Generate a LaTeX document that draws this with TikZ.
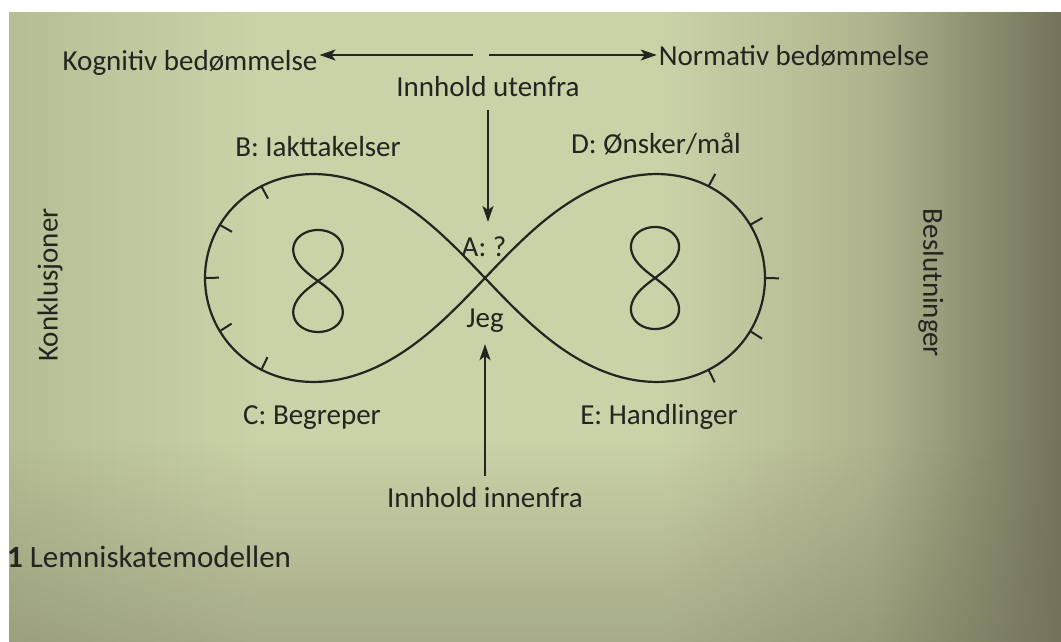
\documentclass[tikz,border=0pt]{standalone}
\usepackage{fontspec}
\setmainfont{Carlito}
\usetikzlibrary{shapes}
\usetikzlibrary{arrows.meta}
\usetikzlibrary{calc}
\usetikzlibrary{fadings}

\definecolor{pageleft}{RGB}{182,190,149}
\definecolor{pagelight}{RGB}{202,210,168}
\definecolor{pagemid}{RGB}{176,180,142}
\definecolor{pagedark}{RGB}{116,114,90}
\definecolor{ink}{RGB}{36,36,32}

\pgfdeclarehorizontalshading{pageshade}{100bp}{color(0bp)=(pageleft); color(25bp)=(pageleft); color(37bp)=(pagelight); color(56bp)=(pagelight); color(66bp)=(pagemid); color(75bp)=(pagedark); color(100bp)=(pagedark)}

\newcommand{\lemx}[1]{485+280*cos(#1)/(1+sin(#1)*sin(#1))}
\newcommand{\lemy}[1]{278+294*sin(#1)*cos(#1)/(1+sin(#1)*sin(#1))}

\begin{document}
\begin{tikzpicture}[x=1pt,y=-1pt]
	\tikzstyle{every node}=[text=ink,font=\fontsize{29}{34}\selectfont,inner sep=2pt]
	\tikzstyle{arr}=[draw=ink,line width=2pt,-{Stealth[length=16pt,width=11pt,inset=4pt]}]
	\tikzstyle{curve}=[draw=ink,line width=2.2pt]
	\tikzstyle{tickmark}=[draw=ink,line width=2pt]
	\useasboundingbox (0,0) rectangle (1061,642);
	\fill[white] (0,0) rectangle (1061,642);
	\shade[shading=pageshade] (9,13) rectangle (1061,642);
	\fill[pagedark,path fading=north,fill opacity=0.4] (9,440) rectangle (1061,642);

	\node[anchor=base] (kog) at (190,71) {Kognitiv bedømmelse};
	\node[anchor=base] (norm) at (794,66) {Normativ bedømmelse};
	\node[anchor=base] (ute) at (488,96) {Innhold utenfra};
	\node[anchor=base] (iakt) at (318,157) {B: Iakttakelser};
	\node[anchor=base] (onsk) at (656,153) {D: Ønsker/mål};
	\node[anchor=base] (a) at (484,256) {A: ?};
	\node[anchor=base] (jeg) at (485,327) {Jeg};
	\node[anchor=base] (begr) at (312,424) {C: Begreper};
	\node[anchor=base] (handl) at (659,424) {E: Handlinger};
	\node[anchor=base] (inn) at (485,507) {Innhold innenfra};
	\node[rotate=90] (konk) at (50,285) {Konklusjoner};
	\node[rotate=-90] (besl) at (931,283) {Beslutninger};
	\node[anchor=base west,font=\fontsize{31}{36}\selectfont] (cap) at (5,567) {\textbf{1} Lemniskatemodellen};

	\coordinate (midL) at (473,55);
	\coordinate (midR) at (489,55);
	\draw[arr] (midL) -- (midL -| kog.east);
	\draw[arr] (midR) -- (midR -| norm.west);
	\draw[arr,shorten <=12pt,shorten >=12pt] (ute.south) -- (ute.south |- a.north);
	\draw[arr,shorten <=9pt,shorten >=10pt] (inn.north) -- (inn.north |- jeg.south);

	\draw[curve] plot[domain=0:360,samples=361] ({\lemx{\x}},{\lemy{\x}});
	\foreach \t in {-23,-11,0,11,23,157,169,180,191,203}{
		\coordinate (p) at ({\lemx{\t}},{\lemy{\t}});
		\coordinate (q) at ({\lemx{\t+1}},{\lemy{\t+1}});
		\draw[tickmark] (p) -- ($(p)!14pt!90:(q)$);
	}

	\draw[curve] plot[domain=0:360,samples=241] ({318+70*sin(\x)*cos(\x)/(1+sin(\x)*sin(\x))},{281+51*cos(\x)/(1+sin(\x)*sin(\x))});
	\draw[curve] plot[domain=0:360,samples=241] ({655+68*sin(\x)*cos(\x)/(1+sin(\x)*sin(\x))},{278+51*cos(\x)/(1+sin(\x)*sin(\x))});
\end{tikzpicture}
\end{document}
